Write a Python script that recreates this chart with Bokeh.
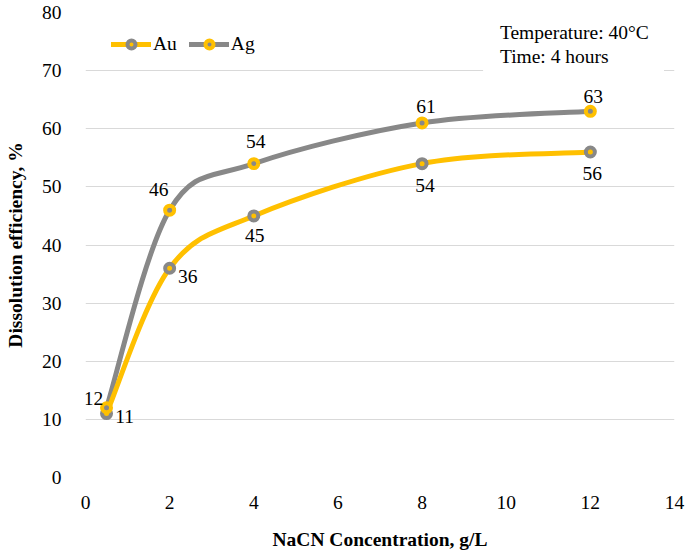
from bokeh.plotting import figure
from bokeh.models import ColumnDataSource, FixedTicker, Legend, LegendItem, Label, BoxAnnotation
from bokeh.core.properties import value
from bokeh.embed import file_html
from bokeh.resources import INLINE

# ---------------- data ----------------
nacn = [0.5, 2, 4, 8, 12]
au = [11, 36, 45, 54, 56]
ag = [12, 46, 54, 61, 63]
x_ticks = [0, 2, 4, 6, 8, 10, 12, 14]
y_ticks = [0, 10, 20, 30, 40, 50, 60, 70, 80]
x_title = "NaCN Concentration, g/L"
y_title = "Dissolution efficiency, %"
note_lines = ["Temperature: 40°C", "Time: 4 hours"]
series_names = ["Au", "Ag"]

# ---------------- styles ----------------
YELLOW = "#FFC000"
GRAY = "#888888"
FONT = "Liberation Serif"
FS = "19.5px"
au_dx = [18, 18, 1, 3, 2]
au_dy = [3, 8, 20, 22, 21]
ag_dx = [-13, -11, 2, 4, 3]
ag_dy = [-9, -21, -22, -16, -15]


def smooth_segments(xs, ys):
    """Catmull-Rom style bezier segments through the data points (Excel smoothed line)."""
    n = len(xs)
    d = dict(x0=[], y0=[], x1=[], y1=[], cx0=[], cy0=[], cx1=[], cy1=[])
    for i in range(n - 1):
        xp, yp = (xs[i - 1], ys[i - 1]) if i > 0 else (xs[i], ys[i])
        xn, yn = (xs[i + 2], ys[i + 2]) if i + 2 < n else (xs[i + 1], ys[i + 1])
        d["x0"].append(xs[i]); d["y0"].append(ys[i])
        d["x1"].append(xs[i + 1]); d["y1"].append(ys[i + 1])
        d["cx0"].append(xs[i] + (xs[i + 1] - xp) / 6.0)
        d["cy0"].append(ys[i] + (ys[i + 1] - yp) / 6.0)
        d["cx1"].append(xs[i + 1] - (xn - xs[i]) / 6.0)
        d["cy1"].append(ys[i + 1] - (yn - ys[i]) / 6.0)
    return ColumnDataSource(d)


p = figure(width=685, height=552, x_range=(0, 14), y_range=(0, 80),
           output_backend="svg", toolbar_location=None,
           min_border_left=85, min_border_right=11, min_border_top=12, min_border_bottom=75)
p.outline_line_color = None
p.background_fill_color = "white"
p.border_fill_color = "white"

p.xgrid.grid_line_color = None
p.ygrid.grid_line_color = "#D9D9D9"
p.ygrid.grid_line_width = 1

p.xaxis.ticker = FixedTicker(ticks=x_ticks)
p.yaxis.ticker = FixedTicker(ticks=y_ticks)
for ax in (p.xaxis[0], p.yaxis[0]):
    ax.axis_line_color = None
    ax.major_tick_line_color = None
    ax.minor_tick_line_color = None
    ax.major_label_text_font = FONT
    ax.major_label_text_font_size = FS
    ax.major_label_text_color = "black"
    ax.axis_label_text_font = FONT
    ax.axis_label_text_font_size = FS
    ax.axis_label_text_font_style = "bold"
    ax.axis_label_text_color = "black"
p.xaxis.axis_label = x_title
p.yaxis.axis_label = y_title
p.yaxis.major_label_standoff = 18
p.yaxis.axis_label_standoff = 13
p.xaxis.major_label_standoff = 12
p.xaxis.axis_label_standoff = 17

# lines
ag_line = p.bezier(x0="x0", y0="y0", x1="x1", y1="y1", cx0="cx0", cy0="cy0", cx1="cx1", cy1="cy1",
                   source=smooth_segments(nacn, ag), line_color=GRAY, line_width=5, line_cap="round")
au_line = p.bezier(x0="x0", y0="y0", x1="x1", y1="y1", cx0="cx0", cy0="cy0", cx1="cx1", cy1="cy1",
                   source=smooth_segments(nacn, au), line_color=YELLOW, line_width=5, line_cap="round")

au_src = ColumnDataSource(dict(x=nacn, y=au, t=[str(v) for v in au], dx=au_dx, dy=au_dy))
ag_src = ColumnDataSource(dict(x=nacn, y=ag, t=[str(v) for v in ag], dx=ag_dx, dy=ag_dy))

au_mk = p.scatter("x", "y", source=au_src, size=9, fill_color=YELLOW, line_color=GRAY, line_width=4)
ag_mk = p.scatter("x", "y", source=ag_src, size=9, fill_color=GRAY, line_color=YELLOW, line_width=4)

for src in (au_src, ag_src):
    p.text("x", "y", text="t", source=src, x_offset="dx", y_offset="dy",
           text_align="center", text_baseline="middle",
           text_font=value(FONT), text_font_size=FS, text_color="black")

legend = Legend(items=[LegendItem(label=series_names[0], renderers=[au_line, au_mk]),
                       LegendItem(label=series_names[1], renderers=[ag_line, ag_mk])],
                orientation="horizontal", location=(26, 422),
                label_text_font=FONT, label_text_font_size=FS, label_text_color="black",
                glyph_width=40, glyph_height=20, label_standoff=2, spacing=12,
                padding=0, margin=0, border_line_color=None, background_fill_alpha=0)
p.add_layout(legend)

# note box
p.add_layout(BoxAnnotation(left=9.45, right=13.75, bottom=68.8, top=79.8,
                           fill_color="white", fill_alpha=1, line_color=None))
p.add_layout(Label(x=9.85, y=76.6, text=note_lines[0], text_baseline="middle",
                   text_font=FONT, text_font_size=FS, text_color="black"))
p.add_layout(Label(x=9.85, y=72.5, text=note_lines[1], text_baseline="middle",
                   text_font=FONT, text_font_size=FS, text_color="black"))

open("out.html", "w").write(file_html(p, INLINE))
